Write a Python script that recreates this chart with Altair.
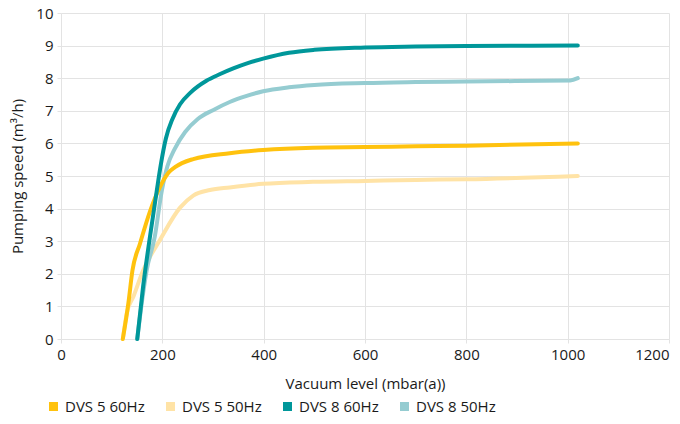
import altair as alt
import pandas as pd

series_names = ["DVS 5 60Hz", "DVS 5 50Hz", "DVS 8 60Hz", "DVS 8 50Hz"]
series_colors = ["#FFC20E", "#FFE3A6", "#00979A", "#95CCD1"]

dvs5_60_x = [122, 133, 141, 156, 176, 195, 212, 225, 261, 333, 399, 497, 600, 700, 800, 1020]
dvs5_60_y = [0, 1.1, 2.1, 2.93, 3.93, 4.65, 5.1, 5.27, 5.52, 5.7, 5.8, 5.87, 5.89, 5.91, 5.93, 6.0]

dvs5_50_x = [122, 130, 143, 162, 195, 235, 261, 294, 333, 399, 497, 600, 700, 800, 1020]
dvs5_50_y = [0, 0.8, 1.3, 2.1, 3.03, 4.03, 4.4, 4.57, 4.65, 4.76, 4.82, 4.85, 4.88, 4.9, 5.0]

dvs8_60_x = [150.5, 162, 175.5, 189, 197, 207, 220, 235, 255, 287, 313, 340, 370, 399, 450, 500, 600, 700, 800, 1020]
dvs8_60_y = [0, 1.6, 3.13, 4.55, 5.35, 6.15, 6.75, 7.2, 7.55, 7.92, 8.12, 8.3, 8.47, 8.6, 8.78, 8.87, 8.94, 8.97, 8.99, 9.0]

dvs8_50_x = [150.5, 162, 169, 185, 199, 210, 225, 245, 270, 300, 333, 365, 399, 450, 500, 600, 700, 800, 1005, 1020]
dvs8_50_y = [0, 1.4, 2.1, 3.13, 4.55, 5.3, 5.85, 6.35, 6.75, 7.02, 7.27, 7.45, 7.6, 7.72, 7.79, 7.85, 7.88, 7.9, 7.93, 8.0]

frames = []
for name, xs, ys in [
    (series_names[0], dvs5_60_x, dvs5_60_y),
    (series_names[1], dvs5_50_x, dvs5_50_y),
    (series_names[2], dvs8_60_x, dvs8_60_y),
    (series_names[3], dvs8_50_x, dvs8_50_y),
]:
    frames.append(pd.DataFrame({"vacuum": xs, "speed": ys, "series": name}))
df = pd.concat(frames, ignore_index=True)

FONT = "Open Sans"
GRID = "#e3e3e3"
TEXT = "#1a1a1a"

x_enc = alt.X("vacuum:Q", title="Vacuum level (mbar(a))",
              scale=alt.Scale(domain=[0, 1200], nice=False),
              axis=alt.Axis(values=[0, 200, 400, 600, 800, 1000, 1200], format="d",
                            labelFlush=False,
                            labelAlign={"expr": "datum.value == 1200 ? 'right' : 'center'"},
                            titlePadding=14))
y_enc = alt.Y("speed:Q", title="Pumping speed (m³/h)",
              scale=alt.Scale(domain=[0, 10], nice=False),
              axis=alt.Axis(values=list(range(0, 11)), labelFlush=False,
                            titlePadding=10))

legend = alt.Legend(orient="none", legendX=-15, legendY=386,
                    direction="horizontal", columns=4,
                    title=None, symbolType="square", symbolSize=9,
                    symbolStrokeWidth=6, symbolOpacity=1,
                    labelFontSize=15, labelFont=FONT, labelColor=TEXT,
                    labelOffset=4, columnPadding=12, labelLimit=200)

stroke_scale = alt.Scale(domain=series_names, range=series_colors)

draw_order = [series_names[1], series_names[3], series_names[0], series_names[2]]
layers = []
for name in draw_order:
    layers.append(
        alt.Chart(df).transform_filter(alt.datum.series == name)
        .mark_line(strokeWidth=4, strokeCap="round", strokeJoin="round", interpolate="monotone")
        .encode(x=x_enc, y=y_enc,
                color=alt.Color("series:N", scale=stroke_scale, legend=legend),
                order=alt.Order("vacuum:Q"))
    )

chart = alt.layer(*layers).properties(
    width=608, height=326,
    background="white",
    autosize=alt.AutoSizeParams(type="none"),
    padding={"left": 53, "top": 5, "right": 3, "bottom": 77},
).configure_view(stroke=None).configure_axis(
    grid=True, gridColor=GRID, gridWidth=1,
    domain=False, ticks=True, tickColor=GRID, tickSize=4,
    labelFont=FONT, labelFontSize=15, labelColor=TEXT, labelPadding=4,
    titleFont=FONT, titleFontSize=15, titleFontWeight="normal", titleColor=TEXT,
)

chart.save("out.html", embed_options={"renderer": "svg", "actions": False})
